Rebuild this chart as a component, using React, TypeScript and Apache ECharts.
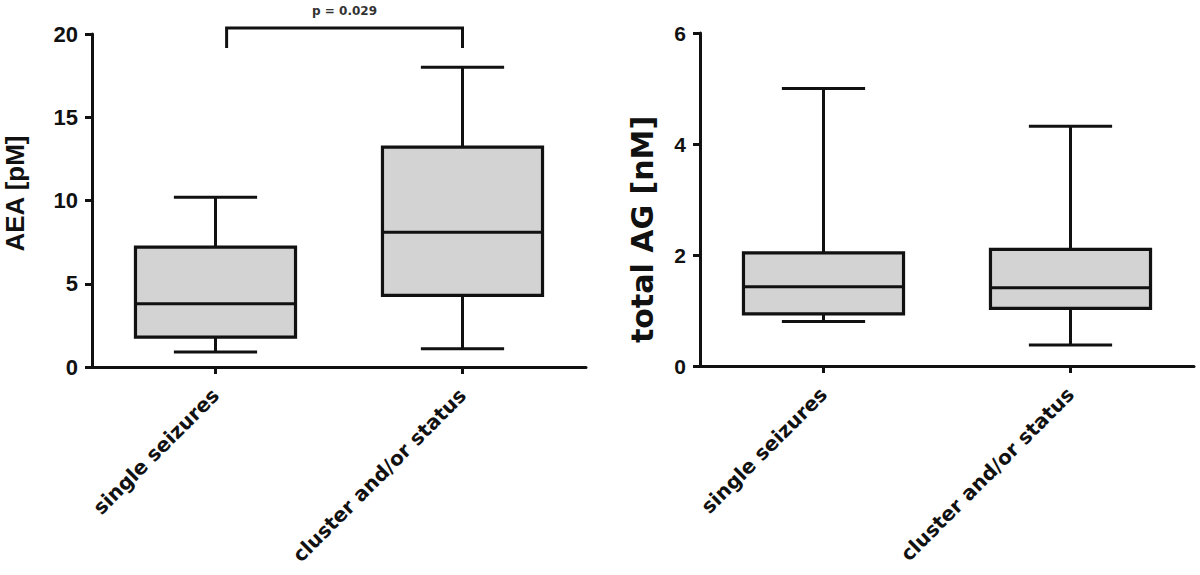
import React, { useEffect, useRef } from "react";
import * as echarts from "echarts";

const categories = ["single seizures", "cluster and/or status"];
// [min, Q1, median, Q3, max]
const aeaStats = [
  [0.9, 1.8, 3.8, 7.2, 10.2],
  [1.1, 4.3, 8.1, 13.2, 18.0],
];
const agStats = [
  [0.8, 0.94, 1.43, 2.04, 5.0],
  [0.38, 1.04, 1.41, 2.1, 4.32],
];
const aeaAxis = { min: 0, max: 20, interval: 5, name: "AEA [pM]" };
const agAxis = { min: 0, max: 6, interval: 2, name: "total AG [nM]" };
// significance bracket between categories 0 and 1: [cat0, cat1, lowerEnd, top]
const bracket = [[0, 1, 19.16, 20.36]];
const pLabel = "p = 0.029";

const INK = "#111";
const FILL = "#d3d3d3";

function boxRender(params: any, api: any) {
  const x = api.value(0);
  const vMin = api.value(1);
  const vQ1 = api.value(2);
  const vMed = api.value(3);
  const vQ3 = api.value(4);
  const vMax = api.value(5);
  const pMin = api.coord([x, vMin]);
  const pQ1 = api.coord([x, vQ1]);
  const pMed = api.coord([x, vMed]);
  const pQ3 = api.coord([x, vQ3]);
  const pMax = api.coord([x, vMax]);
  const bandW = api.size([1, 0])[0];
  const boxW = bandW * 0.648;
  const capW = boxW * 0.52;
  const cx = pMed[0];
  const lineStyle = { stroke: INK, lineWidth: 3 };
  return {
    type: "group",
    children: [
      { type: "line", shape: { x1: cx, y1: pQ3[1], x2: cx, y2: pMax[1] }, style: lineStyle },
      { type: "line", shape: { x1: cx, y1: pQ1[1], x2: cx, y2: pMin[1] }, style: lineStyle },
      { type: "line", shape: { x1: cx - capW / 2, y1: pMax[1], x2: cx + capW / 2, y2: pMax[1] }, style: lineStyle },
      { type: "line", shape: { x1: cx - capW / 2, y1: pMin[1], x2: cx + capW / 2, y2: pMin[1] }, style: lineStyle },
      {
        type: "rect",
        shape: { x: cx - boxW / 2, y: pQ3[1], width: boxW, height: pQ1[1] - pQ3[1] },
        style: { fill: FILL, stroke: INK, lineWidth: 3.2 },
      },
      { type: "line", shape: { x1: cx - boxW / 2, y1: pMed[1], x2: cx + boxW / 2, y2: pMed[1] }, style: { stroke: INK, lineWidth: 3 } },
    ],
  };
}

function bracketRender(params: any, api: any) {
  const a = api.value(0);
  const b = api.value(1);
  const lo = api.value(2);
  const hi = api.value(3);
  const bandW = api.size([1, 0])[0];
  const shift = bandW * 0.045;
  const pA = api.coord([a, hi]);
  const pB = api.coord([b, hi]);
  const pALo = api.coord([a, lo]);
  const xa = pA[0] + shift;
  const xb = pB[0];
  return {
    type: "group",
    children: [
      {
        type: "polyline",
        shape: { points: [[xa, pALo[1]], [xa, pA[1]], [xb, pA[1]], [xb, pALo[1]]] },
        style: { stroke: INK, lineWidth: 3, fill: null },
      },
      {
        type: "text",
        x: (xa + xb) / 2,
        y: pA[1] - 11,
        style: {
          text: pLabel,
          fill: "#333",
          font: "bold 12px 'DejaVu Sans'",
          align: "center",
          verticalAlign: "bottom",
        },
      },
    ],
  };
}

function makeXAxis(gridIndex: number) {
  return {
    type: "category",
    gridIndex,
    data: categories,
    boundaryGap: true,
    axisLine: { show: true, lineStyle: { color: INK, width: 3 } },
    axisTick: { show: true, alignWithLabel: true, length: 7, lineStyle: { color: INK, width: 3 } },
    axisLabel: {
      rotate: 45,
      margin: 25,
      color: "#111",
      fontFamily: "DejaVu Sans",
      fontWeight: "bold",
      fontSize: 20,
      interval: 0,
    },
    splitLine: { show: false },
  };
}

function makeYAxis(
  gridIndex: number,
  cfg: any,
  labelSize: number,
  nameSize: number,
  nameFont: string,
  nameGap: number,
  namePadding: number[]
) {
  return {
    type: "value",
    gridIndex,
    min: cfg.min,
    max: cfg.max,
    interval: cfg.interval,
    name: cfg.name,
    nameLocation: "middle",
    nameRotate: 90,
    nameGap,
    nameTextStyle: {
      color: "#111",
      fontFamily: nameFont,
      fontWeight: "bold",
      fontSize: nameSize,
      padding: namePadding,
    },
    axisLine: { show: true, lineStyle: { color: INK, width: 3 } },
    axisTick: { show: true, length: 7, lineStyle: { color: INK, width: 3 } },
    axisLabel: {
      margin: 14,
      color: "#111",
      fontFamily: "Liberation Sans",
      fontWeight: "bold",
      fontSize: labelSize,
    },
    splitLine: { show: false },
  };
}

export default function App() {
  const ref = useRef<HTMLDivElement>(null);
  useEffect(() => {
    if (!ref.current) return;
    const chart = echarts.init(ref.current, undefined, { renderer: "svg" });
    chart.setOption({
      animation: false,
      backgroundColor: "#fff",
      grid: [
        { left: 92, top: 34, width: 494, height: 333, outerBoundsMode: "none", containLabel: false },
        { left: 700, top: 33, width: 494, height: 333, outerBoundsMode: "none", containLabel: false },
      ],
      xAxis: [makeXAxis(0), makeXAxis(1)],
      yAxis: [
        makeYAxis(0, aeaAxis, 22, 26, "Liberation Sans", 64, [0, 0, 0, 14]),
        makeYAxis(1, agAxis, 21, 30, "DejaVu Sans", 43, [0, 60, 0, 0]),
      ],
      series: [
        {
          type: "custom",
          name: "AEA",
          xAxisIndex: 0,
          yAxisIndex: 0,
          renderItem: boxRender,
          encode: { x: 0, y: [1, 2, 3, 4, 5] },
          data: aeaStats.map((s, i) => [i, ...s]),
          clip: false,
        },
        {
          type: "custom",
          name: "total AG",
          xAxisIndex: 1,
          yAxisIndex: 1,
          renderItem: boxRender,
          encode: { x: 0, y: [1, 2, 3, 4, 5] },
          data: agStats.map((s, i) => [i, ...s]),
          clip: false,
        },
        {
          type: "custom",
          name: "significance",
          xAxisIndex: 0,
          yAxisIndex: 0,
          renderItem: bracketRender,
          encode: { x: [0, 1], y: [2, 3] },
          data: bracket,
          clip: false,
          silent: true,
        },
      ],
    });
    return () => chart.dispose();
  }, []);
  return (
    <div
      ref={ref}
      style={{ position: "absolute", left: 0, top: 0, width: 1200, height: 575, background: "#fff" }}
    />
  );
}
